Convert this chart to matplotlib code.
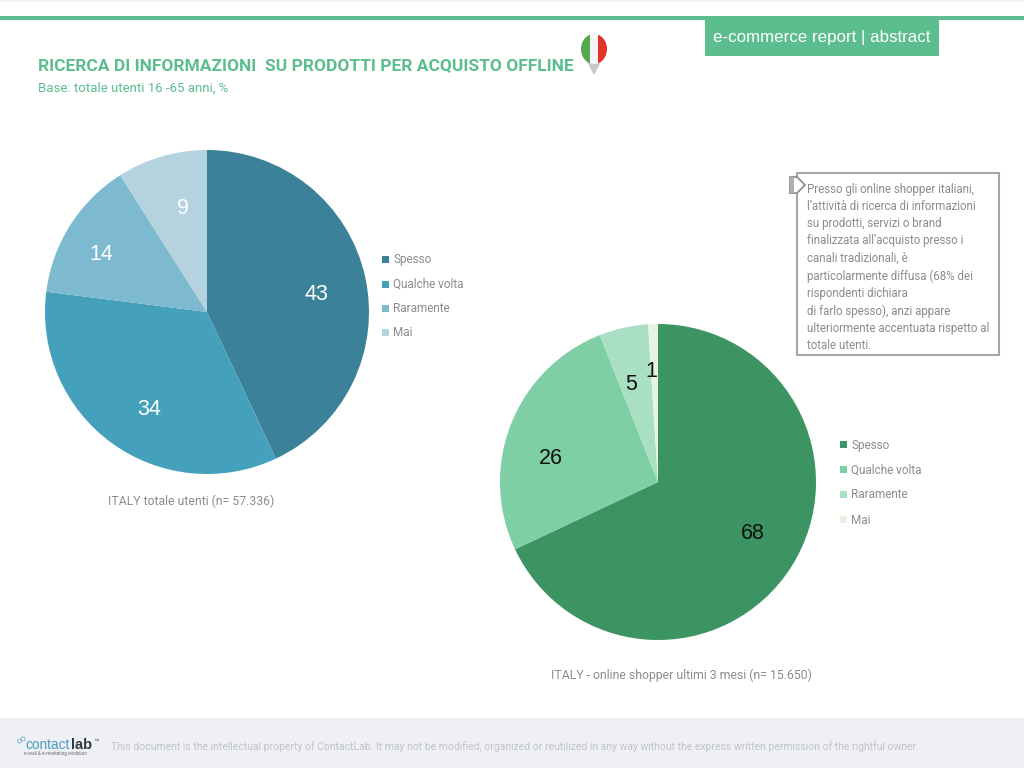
import matplotlib
matplotlib.use("Agg")
import matplotlib.pyplot as plt
from matplotlib.patches import Rectangle, Polygon, Ellipse, Circle

categories = ["Spesso", "Qualche volta", "Raramente", "Mai"]
values_total = [43, 34, 14, 9]
values_shoppers = [68, 26, 5, 1]
colors_total = ["#3A8199", "#45A0BB", "#7DB9CF", "#B5D3DF"]
colors_shoppers = ["#3C9463", "#7FCFA5", "#A9DFC3", "#E8F4E2"]
title = "RICERCA DI INFORMAZIONI  SU PRODOTTI PER ACQUISTO OFFLINE"
subtitle = "Base: totale utenti 16 -65 anni, %"
tab_text = "e-commerce report | abstract"
caption_total = "ITALY totale utenti (n= 57.336)"
caption_shoppers = "ITALY - online shopper ultimi 3 mesi (n= 15.650)"
note = ("Presso gli online shopper italiani,\n"
        "l\u2019attività di ricerca di informazioni\n"
        "su prodotti, servizi o brand\n"
        "finalizzata all\u2019acquisto presso i\n"
        "canali tradizionali, è\n"
        "particolarmente diffusa (68% dei\n"
        "rispondenti dichiara\n"
        "di farlo spesso), anzi appare\n"
        "ulteriormente accentuata rispetto al\n"
        "totale utenti.")
footer = ("This document is the intellectual property of ContactLab. It may not be modified, organized or "
          "reutilized in any way without the express written permission of the rightful owner.")

plt.rcParams["font.family"] = ["Roboto", "Liberation Sans", "DejaVu Sans"]
GREEN = "#5CBD8E"
GREY = "#8C8C8C"

fig = plt.figure(figsize=(10.24, 7.68), dpi=100, facecolor="white")
ax = fig.add_axes([0, 0, 1, 1])
Y = lambda y: 768 - y


def draw_pie(values, colors, cx, cy, r, nudges, label_size, label_color):
    _, texts = ax.pie(values, colors=colors, center=(cx, Y(cy)), radius=r, startangle=90,
                      counterclock=False, labels=[str(v) for v in values], labeldistance=0.7,
                      frame=True, wedgeprops={"linewidth": 0},
                      textprops={"fontsize": label_size, "color": label_color,
                                 "family": ["Liberation Sans"]})
    for t, (dx, dy) in zip(texts, nudges):
        x, y = t.get_position()
        t.set_position((x + dx, y - dy))
        t.set_ha("center")
        t.set_va("center")


draw_pie(values_total, colors_total, 207, 312, 162,
         [(-1, 7), (9, 6), (-10, 3), (8, 5)], 15.5, "white")
draw_pie(values_shoppers, colors_shoppers, 658, 482, 158,
         [(1, -8), (-4, 17), (-3, 10), (-3, 0)], 15.5, "#111111")
ax.set_xlim(0, 1024)
ax.set_ylim(0, 768)
ax.set_aspect("auto")
ax.axis("off")

# frame
ax.add_patch(Rectangle((0, Y(2)), 1024, 2, fc="#EDF4F6", ec="none"))
ax.add_patch(Rectangle((0, Y(20)), 1024, 4, fc=GREEN, ec="none"))
ax.add_patch(Rectangle((705, Y(55.5)), 234, 36, fc=GREEN, ec="none"))
ax.add_patch(Rectangle((0, 0), 1024, 50, fc="#EEF0F3", ec="none"))
ax.text(821.5, Y(37.5), tab_text, color="white", fontsize=12.2, ha="center", va="center",
        family=["Liberation Sans"])
ax.text(38, Y(66), title, color=GREEN, fontsize=12.5, fontweight="bold", va="center")
ax.text(38, Y(88), subtitle, color=GREEN, fontsize=9.5, va="center")

# pin icon
ax.add_patch(Polygon([(585, Y(58)), (603, Y(58)), (594, Y(75))], fc="#C8C8C8", ec="none"))
pin = Ellipse((594, Y(49)), 26, 30, fc="#F5F5F5", ec="none")
ax.add_patch(pin)
for x0, w, c in [(581, 9, "#55A84F"), (598, 9, "#E0332B")]:
    stripe = Rectangle((x0, Y(65)), w, 32, fc=c, ec="none")
    ax.add_patch(stripe)
    stripe.set_clip_path(pin)


def legend(colors, x, ys):
    for name, c, y in zip(categories, colors, ys):
        ax.add_patch(Rectangle((x, Y(y + 3.5)), 7, 7, fc=c, ec="none"))
        ax.text(x + 11, Y(y + 0.5), name, color=GREY, fontsize=8.5, va="center")


legend(colors_total, 382, [259.5, 284, 308.5, 332.5])
legend(colors_shoppers, 840, [444.5, 469.5, 494.5, 519.5])
ax.text(191, Y(501), caption_total, color=GREY, fontsize=8.8, ha="center", va="center")
ax.text(681, Y(675), caption_shoppers, color=GREY, fontsize=8.85, ha="center", va="center")

# callout
ax.add_patch(Rectangle((797, Y(355)), 202, 182, fc="white", ec="#A6A6A6", lw=1.5))
ax.add_patch(Polygon([(790, Y(177)), (797, Y(177)), (805, Y(185)), (797, Y(193)), (790, Y(193))],
                     fc="white", ec="#8F8F8F", lw=1.3, zorder=3))
ax.add_patch(Rectangle((790, Y(193)), 4, 16, fc="#B0B0B0", ec="none", zorder=4))
ax.text(807, Y(182.5), note, color=GREY, fontsize=8.3, va="top", ha="left", linespacing=1.43)

# footer
for cx, cy in [(19.5, 741), (23, 739)]:
    ax.add_patch(Circle((cx, Y(cy)), 2, fc="none", ec="#6FB2CE", lw=0.6))
ax.text(25, Y(745), "contact", color="#4A9CC0", fontsize=9.8, va="center", family=["Liberation Sans"])
ax.text(71, Y(745), "lab", color="#333A45", fontsize=10.6, fontweight="bold", va="center",
        family=["Liberation Sans"])
ax.text(93, Y(741), "\u2122", color="#555555", fontsize=4, va="center", family=["Liberation Sans"])
ax.text(24, Y(753.5), "e-mail & e-marketing evolution", color="#666666", fontsize=3.3, va="center",
        family=["Liberation Sans"])
ax.text(111, Y(746.5), footer, color="#C0C3C8", fontsize=7.5, va="center")

fig.savefig("out.png", dpi=100)
